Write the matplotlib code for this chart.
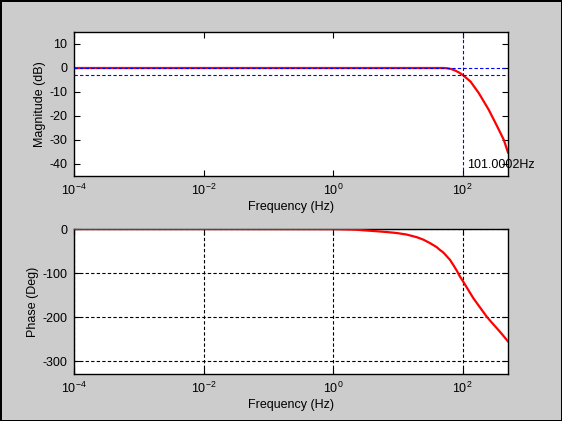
import numpy as np
import matplotlib
matplotlib.use("Agg")
import matplotlib.pyplot as plt
from matplotlib.ticker import FixedLocator, NullLocator

plt.rcParams['font.family'] = ['Liberation Sans', 'DejaVu Sans']
plt.rcParams['mathtext.default'] = 'regular'
plt.rcParams['axes.unicode_minus'] = False

# values
freq_mag = [1e-4, 1e-2, 1, 10, 50, 57, 66, 77, 88, 100, 131.5, 176.6, 252, 340, 430, 500]
mag_db = [0, 0, 0, 0, 0, -0.1, -0.4, -1.1, -1.9, -2.9, -5.6, -10.4, -17.4, -24.3, -29.9, -35.2]

freq_ph = [1e-4, 1e-2, 1, 2.2, 4.2, 6.7, 9.5, 13.6, 19.5, 24.6, 31.3, 39.6, 44.6, 50, 63.7,
           71.6, 80.7, 90.8, 102, 124, 146, 185, 235, 280, 355, 401, 500]
phase_deg = [0, 0, -0.3, -1.5, -4.5, -6.8, -9, -12.5, -18.5, -24, -32, -41, -47.6, -53, -70,
             -81.6, -94, -108, -119.5, -140, -157, -178, -199, -212, -229, -238, -255]

fc = 101.0002
fc_label = '101.0002Hz'
xticks = [1e-4, 1e-2, 1, 1e2]
mag_ticks = [-40, -30, -20, -10, 0, 10]
ph_ticks = [-300, -200, -100, 0]

fig = plt.figure(figsize=(5.62, 4.21), dpi=100)
fig.patch.set_facecolor('#cccccc')
fig.patch.set_edgecolor('black')
fig.patch.set_linewidth(1.0)

ax1 = fig.add_axes([0.1317, 0.582, 0.7722, 0.342])
ax2 = fig.add_axes([0.1317, 0.1116, 0.7722, 0.3444])

for ax in (ax1, ax2):
    ax.set_xscale('log')
    ax.set_xlim(1e-4, 500)
    ax.xaxis.set_major_locator(FixedLocator(xticks))
    ax.xaxis.set_minor_locator(NullLocator())
    ax.tick_params(direction='in', top=True, right=True, length=4,
                   labelsize=9, width=0.8, pad=5)
    for s in ax.spines.values():
        s.set_linewidth(1.0)
    ax.set_xlabel('Frequency (Hz)', fontsize=9, labelpad=2)

# magnitude
ax1.plot(freq_mag, mag_db, color='red', lw=1.6, zorder=2)
ax1.axhline(0, color='blue', ls=(0, (3, 2)), lw=0.8, zorder=3)
ax1.axhline(-3, color='blue', ls=(0, (3, 2)), lw=0.8, zorder=3)
ax1.axvline(fc, color='blue', ls=(0, (3, 2)), lw=0.8, zorder=3)
ax1.set_ylim(-45, 15)
ax1.set_yticks(mag_ticks)
ax1.set_ylabel('Magnitude (dB)', fontsize=9, labelpad=2)
ax1.text(fc * 1.17, -40.3, fc_label, fontsize=9, va='center', ha='left')

# phase
ax2.plot(freq_ph, phase_deg, color='red', lw=1.6, zorder=3)
ax2.set_ylim(-329, 0)
ax2.set_yticks(ph_ticks)
ax2.grid(True, color='black', ls=(0, (3, 2)), lw=0.8)
ax2.set_ylabel('Phase (Deg)', fontsize=9, labelpad=2)

fig.savefig('out.png', dpi=100, facecolor=fig.get_facecolor(), edgecolor=fig.get_edgecolor())
